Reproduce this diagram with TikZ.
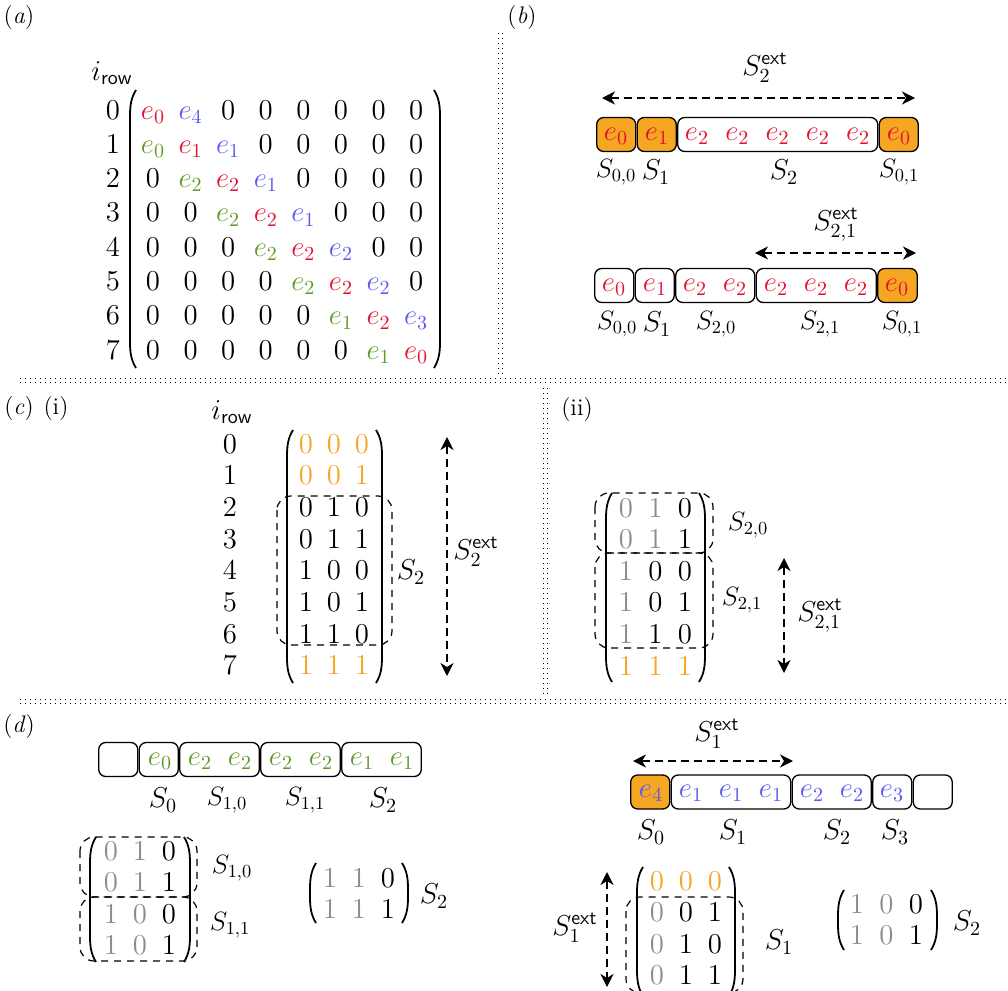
\documentclass[tikz,border=0pt]{standalone}
\usepackage{fontspec}
\usepackage{graphicx}
\usepackage{tikz}
\usetikzlibrary{arrows.meta}
\definecolor{cR}{HTML}{E0102E}
\definecolor{cB}{HTML}{5858EC}
\definecolor{cG}{HTML}{5C9A22}
\definecolor{cO}{HTML}{F5A623}
\definecolor{cY}{HTML}{8C8C8C}
\newcommand\mkR[1]{\textcolor{cR}{$e_{#1}$}}
\newcommand\mkB[1]{\textcolor{cB}{$e_{#1}$}}
\newcommand\mkG[1]{\textcolor{cG}{$e_{#1}$}}
\newcommand\mkO[1]{\textcolor{cO}{#1}}
\newcommand\mkY[1]{\textcolor{cY}{#1}}
\newcommand\lbl[1]{\scalebox{0.92}{$#1$}}
\newcommand\mrow[6]{\foreach \v [count=\cc from 0] in {#6} {\node[#5] (#1-\cc) at ({#3+\cc*(#4)},#2) {\v};}}
\newcommand\drawLP[3]{\draw[paren] ({#1+6},#2) .. controls ({#1+1},{#2+8}) and (#1,{#2+16}) .. (#1,{#2+26}) -- (#1,{#3-26}) .. controls (#1,{#3-16}) and ({#1+1},{#3-8}) .. ({#1+6},#3);}
\newcommand\drawRP[3]{\draw[paren] ({#1-6},#2) .. controls ({#1-1},{#2+8}) and (#1,{#2+16}) .. (#1,{#2+26}) -- (#1,{#3-26}) .. controls (#1,{#3-16}) and ({#1-1},{#3-8}) .. ({#1-6},#3);}
\newcommand\seg[5]{\node[#5, minimum width={(#3-#2-1.5)*0.5}] (#1) at ({(#2+#3)/2},#4) {};}
\tikzset{
  txt/.style={inner sep=0pt, anchor=base, font=\fontsize{14.4}{17}\selectfont},
  bigt/.style={inner sep=0pt, anchor=base, font=\fontsize{14.4}{17}\selectfont},
  lab/.style={inner sep=0pt, font=\fontsize{14.4}{17}\selectfont},
  ctext/.style={inner sep=0pt, font=\fontsize{14.4}{17}\selectfont},
  panel/.style={inner sep=0pt, font=\fontsize{12}{14}\selectfont},
  cell/.style={draw, line width=0.65pt, rounded corners=3.5pt, minimum height=17pt, inner sep=0pt, outer sep=0pt},
  hot/.style={cell, fill=cO},
  divider/.style={line width=0.65pt, dash pattern=on 0.65pt off 1.85pt},
  grp/.style={line width=0.6pt, rounded corners=7pt, dash pattern=on 3.5pt off 3pt},
  span/.style={line width=0.65pt, dash pattern=on 4pt off 2.5pt, {Stealth[length=6.5pt,width=6.5pt,inset=2pt]}-{Stealth[length=6.5pt,width=6.5pt,inset=2pt]}},
  paren/.style={line width=0.9pt},
}
\begin{document}
\begin{tikzpicture}[x=0.5pt,y=-0.5pt]
\useasboundingbox (0,0) rectangle (1008,991);

% dividers
\draw[divider] (498.5,33) -- (498.5,377);
\draw[divider] (502.5,33) -- (502.5,377);
\draw[divider] (20,378.5) -- (1008,378.5);
\draw[divider] (20,382.5) -- (1008,382.5);
\draw[divider] (543.5,388) -- (543.5,696);
\draw[divider] (547.5,388) -- (547.5,696);
\draw[divider] (20,699.5) -- (1008,699.5);
\draw[divider] (20,703.5) -- (1008,703.5);

% panel labels
\node[panel] (pa) at (19,18) {(\textit{a})};
\node[panel] (pb) at (522,18) {(\textit{b})};
\node[panel] (pc) at (19,409) {(\textit{c})};
\node[panel] (pci) at (56,409) {(i)};
\node[panel] (pcii) at (577,410) {(ii)};
\node[panel] (pd) at (19,727) {(\textit{d})};

% ---------- (a) ----------
\node[lab] (airow) at (112,73) {$i_{\mathsf{row}}$};
\foreach \r in {0,...,7} {\node[bigt] (ar-\r) at (113,{119+34.3*\r}) {\r};}
\mrow{a0}{119}{153}{37.6}{bigt}{\mkR{0},\mkB{4},0,0,0,0,0,0}
\mrow{a1}{153.3}{153}{37.6}{bigt}{\mkG{0},\mkR{1},\mkB{1},0,0,0,0,0}
\mrow{a2}{187.6}{153}{37.6}{bigt}{0,\mkG{2},\mkR{2},\mkB{1},0,0,0,0}
\mrow{a3}{221.9}{153}{37.6}{bigt}{0,0,\mkG{2},\mkR{2},\mkB{1},0,0,0}
\mrow{a4}{256.2}{153}{37.6}{bigt}{0,0,0,\mkG{2},\mkR{2},\mkB{2},0,0}
\mrow{a5}{290.5}{153}{37.6}{bigt}{0,0,0,0,\mkG{2},\mkR{2},\mkB{2},0}
\mrow{a6}{324.8}{153}{37.6}{bigt}{0,0,0,0,0,\mkG{1},\mkR{2},\mkB{3}}
\mrow{a7}{359.1}{153}{37.6}{bigt}{0,0,0,0,0,0,\mkG{1},\mkR{0}}
\drawLP{130}{90}{368}
\drawRP{440}{90}{368}

% ---------- (b) top ----------
\coordinate (bt1) at (602,98);
\coordinate (bt2) at (915,98);
\draw[span] (bt1) -- (bt2);
\node[lab] (btl) at (765,68) {$S_2^{\mathsf{ext}}$};
\seg{bta}{596}{636.5}{134.5}{hot}
\seg{btb}{636.5}{677}{134.5}{hot}
\seg{btc}{677}{878.5}{134.5}{cell}
\seg{btd}{878.5}{919}{134.5}{hot}
\node[ctext] (bte0) at (616,136) {\mkR{0}};
\node[ctext] (bte1) at (657,136) {\mkR{1}};
\foreach \k in {0,...,4} {\node[ctext] (bte2-\k) at ({697+40.3*\k},136) {\mkR{2}};}
\node[ctext] (bte3) at (899,136) {\mkR{0}};
\node[lab] (btS00) at (616,172) {\lbl{S_{0,0}}};
\node[lab] (btS1) at (656,172) {$S_1$};
\node[lab] (btS2) at (784,172) {$S_2$};
\node[lab] (btS01) at (899,172) {\lbl{S_{0,1}}};

% ---------- (b) bottom ----------
\coordinate (bb1) at (755,253);
\coordinate (bb2) at (916,253);
\draw[span] (bb1) -- (bb2);
\node[lab] (bbl) at (836,225) {$S_{2,1}^{\mathsf{ext}}$};
\seg{bba}{594}{634.5}{285.5}{cell}
\seg{bbb}{634.5}{675}{285.5}{cell}
\seg{bbc}{675}{755.5}{285.5}{cell}
\seg{bbd}{755.5}{877}{285.5}{cell}
\seg{bbe}{877}{918}{285.5}{hot}
\node[ctext] (bbe0) at (614,287) {\mkR{0}};
\node[ctext] (bbe1) at (655,287) {\mkR{1}};
\node[ctext] (bbe2) at (695,287) {\mkR{2}};
\node[ctext] (bbe3) at (735,287) {\mkR{2}};
\node[ctext] (bbe4) at (776,287) {\mkR{2}};
\node[ctext] (bbe5) at (816,287) {\mkR{2}};
\node[ctext] (bbe6) at (856,287) {\mkR{2}};
\node[ctext] (bbe7) at (897,287) {\mkR{0}};
\node[lab] (bbS00) at (617,324) {\lbl{S_{0,0}}};
\node[lab] (bbS1) at (657,324) {$S_1$};
\node[lab] (bbS20) at (716,324) {\lbl{S_{2,0}}};
\node[lab] (bbS21) at (820,324) {\lbl{S_{2,1}}};
\node[lab] (bbS01) at (902,324) {\lbl{S_{0,1}}};

% ---------- (c)(i) ----------
\node[lab] (cirow) at (232,412) {$i_{\mathsf{row}}$};
\foreach \r in {0,...,7} {\node[txt] (cr-\r) at (230,{453+31.7*\r}) {\r};}
\mrow{c0}{453}{306}{28}{txt}{\mkO{0},\mkO{0},\mkO{0}}
\mrow{c1}{484.7}{306}{28}{txt}{\mkO{0},\mkO{0},\mkO{1}}
\mrow{c2}{516.4}{306}{28}{txt}{0,1,0}
\mrow{c3}{548.1}{306}{28}{txt}{0,1,1}
\mrow{c4}{579.8}{306}{28}{txt}{1,0,0}
\mrow{c5}{611.5}{306}{28}{txt}{1,0,1}
\mrow{c6}{643.2}{306}{28}{txt}{1,1,0}
\mrow{c7}{674.9}{306}{28}{txt}{\mkO{1},\mkO{1},\mkO{1}}
\drawLP{287}{430}{683}
\drawRP{382}{430}{683}
\draw[grp] (277,496) rectangle (392,645);
\node[lab] (ciS2) at (411,572) {$S_2$};
\coordinate (ca1) at (447,437);
\coordinate (ca2) at (447,676);
\draw[span] (ca1) -- (ca2);
\node[lab] (cil) at (476,552) {$S_2^{\mathsf{ext}}$};

% ---------- (c)(ii) ----------
\mrow{d0}{517}{626}{29.5}{txt}{\mkY{0},\mkY{1},0}
\mrow{d1}{548.6}{626}{29.5}{txt}{\mkY{0},\mkY{1},1}
\mrow{d2}{580.2}{626}{29.5}{txt}{\mkY{1},0,0}
\mrow{d3}{611.8}{626}{29.5}{txt}{\mkY{1},0,1}
\mrow{d4}{643.4}{626}{29.5}{txt}{\mkY{1},1,0}
\mrow{d5}{675}{626}{29.5}{txt}{\mkO{1},\mkO{1},\mkO{1}}
\drawLP{606}{493}{682}
\drawRP{705}{493}{682}
\draw[grp] (595,493) rectangle (713,553);
\draw[grp] (595,553) rectangle (713,648);
\node[lab] (ciiS20) at (748,525) {\lbl{S_{2,0}}};
\node[lab] (ciiS21) at (742,600) {\lbl{S_{2,1}}};
\coordinate (cb1) at (784,558);
\coordinate (cb2) at (784,673);
\draw[span] (cb1) -- (cb2);
\node[lab] (ciil) at (820,616) {$S_{2,1}^{\mathsf{ext}}$};

% ---------- (d) left ----------
\seg{dla}{98}{138.5}{759.5}{cell}
\seg{dlb}{138.5}{179}{759.5}{cell}
\seg{dlc}{179}{260}{759.5}{cell}
\seg{dld}{260}{341}{759.5}{cell}
\seg{dle}{341}{422}{759.5}{cell}
\node[ctext] (dle0) at (160,761) {\mkG{0}};
\node[ctext] (dle1) at (200,761) {\mkG{2}};
\node[ctext] (dle2) at (240,761) {\mkG{2}};
\node[ctext] (dle3) at (281,761) {\mkG{2}};
\node[ctext] (dle4) at (321,761) {\mkG{2}};
\node[ctext] (dle5) at (362,761) {\mkG{1}};
\node[ctext] (dle6) at (402,761) {\mkG{1}};
\node[lab] (dlS0) at (163,800) {$S_0$};
\node[lab] (dlS10) at (227,800) {\lbl{S_{1,0}}};
\node[lab] (dlS11) at (305,800) {\lbl{S_{1,1}}};
\node[lab] (dlS2) at (383,800) {$S_2$};

\mrow{e0}{860}{111}{29}{txt}{\mkY{0},\mkY{1},0}
\mrow{e1}{891.5}{111}{29}{txt}{\mkY{0},\mkY{1},1}
\mrow{e2}{923}{111}{29}{txt}{\mkY{1},\mkY{0},0}
\mrow{e3}{954.5}{111}{29}{txt}{\mkY{1},\mkY{0},1}
\drawLP{90}{837}{962}
\drawRP{190}{837}{962}
\draw[grp] (80,837) rectangle (197,897);
\draw[grp] (80,897) rectangle (197,961);
\node[lab] (dlmS10) at (232,868) {\lbl{S_{1,0}}};
\node[lab] (dlmS11) at (230,925) {\lbl{S_{1,1}}};

\mrow{f0}{887}{330}{29}{txt}{\mkY{1},\mkY{1},0}
\mrow{f1}{918.5}{330}{29}{txt}{\mkY{1},\mkY{1},1}
\drawLP{310}{863}{923}
\drawRP{408}{863}{923}
\node[lab] (dlmS2) at (434,896) {$S_2$};

% ---------- (d) right ----------
\coordinate (da1) at (633,761);
\coordinate (da2) at (793,761);
\draw[span] (da1) -- (da2);
\node[lab] (drl) at (717,734) {$S_1^{\mathsf{ext}}$};
\seg{dra}{630}{670.5}{792}{hot}
\seg{drb}{670.5}{791.5}{792}{cell}
\seg{drc}{791.5}{872}{792}{cell}
\seg{drd}{872}{912.5}{792}{cell}
\seg{dre}{912.5}{953}{792}{cell}
\node[ctext] (dre0) at (651,793.5) {\mkB{4}};
\node[ctext] (dre1) at (691,793.5) {\mkB{1}};
\node[ctext] (dre2) at (731,793.5) {\mkB{1}};
\node[ctext] (dre3) at (771,793.5) {\mkB{1}};
\node[ctext] (dre4) at (812,793.5) {\mkB{2}};
\node[ctext] (dre5) at (852,793.5) {\mkB{2}};
\node[ctext] (dre6) at (892,793.5) {\mkB{3}};
\node[lab] (drS0) at (651,832) {$S_0$};
\node[lab] (drS1) at (733,832) {$S_1$};
\node[lab] (drS2) at (837,832) {$S_2$};
\node[lab] (drS3) at (895,832) {$S_3$};

\mrow{g0}{890}{657}{29}{txt}{\mkO{0},\mkO{0},\mkO{0}}
\mrow{g1}{921.5}{657}{29}{txt}{\mkY{0},0,1}
\mrow{g2}{953}{657}{29}{txt}{\mkY{0},1,0}
\mrow{g3}{984.5}{657}{29}{txt}{\mkY{0},1,1}
\drawLP{637}{867}{996}
\drawRP{735}{867}{996}
\draw[grp] (626,897) rectangle (743,993);
\node[lab] (drmS1) at (779,942) {$S_1$};
\coordinate (db1) at (607,872);
\coordinate (db2) at (607,987);
\draw[span] (db1) -- (db2);
\node[lab] (drml) at (575,928) {$S_1^{\mathsf{ext}}$};

\mrow{h0}{913}{857}{29.5}{txt}{\mkY{1},\mkY{0},0}
\mrow{h1}{944.5}{857}{29.5}{txt}{\mkY{1},\mkY{0},1}
\drawLP{838}{890}{950}
\drawRP{937}{890}{950}
\node[lab] (drmS2) at (967,923) {$S_2$};
\end{tikzpicture}
\end{document}
